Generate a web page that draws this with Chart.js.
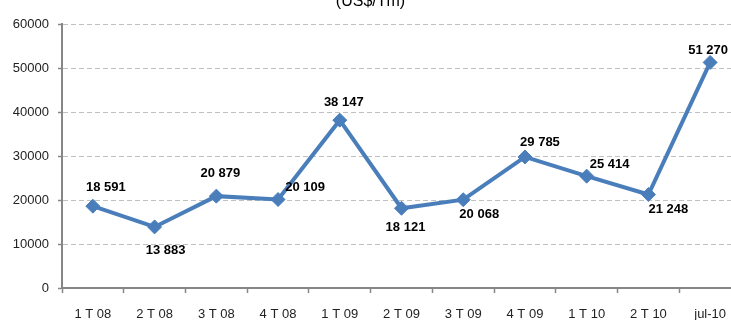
<!DOCTYPE html>
<html>
<head>
<meta charset="utf-8">
<title>US$/Tm</title>
<script src="https://cdn.jsdelivr.net/npm/chart.js@4.4.1/dist/chart.umd.min.js"></script>
<style>
  html, body { margin: 0; padding: 0; background: #fff; overflow: hidden; }
  #wrap { position: absolute; left: 0; top: -8px; width: 741px; height: 328px; }
</style>
</head>
<body>
<div id="wrap"><canvas id="priceChart"></canvas></div>
<script>
// quarterly price, US$ per tonne
var periods = ['1 T 08', '2 T 08', '3 T 08', '4 T 08', '1 T 09', '2 T 09', '3 T 09', '4 T 09', '1 T 10', '2 T 10', 'jul-10'];
var prices = [18591, 13883, 20879, 20109, 38147, 18121, 20068, 29785, 25414, 21248, 51270];
var yMin = 0;
var yMax = 60000;
var yStep = 10000;

// where each value label sits relative to its point (dx, dy)
var labelOffsets = [
  [13, -19], [11, 24], [4, -23], [27, -12], [4, -18], [4, 19],
  [16, 15], [15, -15], [23, -12], [20, 15], [-2, -12]
];

function spaced(n) {
  return String(n).replace(/\B(?=(\d{3})+(?!\d))/g, ' ');
}

var valueLabels = {
  id: 'valueLabels',
  afterDatasetsDraw: function(chart) {
    var ctx = chart.ctx;
    var meta = chart.getDatasetMeta(0);
    ctx.save();
    ctx.font = 'bold 13px "Liberation Sans", Arial, sans-serif';
    ctx.fillStyle = '#000';
    ctx.textAlign = 'center';
    ctx.textBaseline = 'middle';
    meta.data.forEach(function(pt, i) {
      var off = labelOffsets[i];
      ctx.fillText(spaced(prices[i]), pt.x + off[0], pt.y + off[1]);
    });
    ctx.restore();
  }
};

var ctx = document.getElementById('priceChart');

var lineGraph = new Chart(ctx, {
  type: 'line',
  data: {
    labels: periods,
    datasets: [{
      data: prices,
      borderColor: '#4a7ebb',
      backgroundColor: '#4a7ebb',
      borderWidth: 4,
      tension: 0,
      pointStyle: 'rectRot',
      pointRadius: 7,
      pointBorderWidth: 1,
      pointBackgroundColor: '#4a7ebb',
      pointBorderColor: '#4a7ebb'
    }]
  },
  options: {
    responsive: true,
    maintainAspectRatio: false,
    animation: false,
    layout: { padding: 0, autoPadding: false },
    plugins: {
      legend: { display: false },
      tooltip: { enabled: false },
      title: {
        display: true,
        text: '(US$/Tm)',
        color: '#000',
        font: { family: '"Liberation Sans", Arial, sans-serif', size: 16, weight: 'normal', lineHeight: 1.2 },
        padding: { top: 0, bottom: 12.8 }
      }
    },
    scales: {
      x: {
        offset: true,
        afterFit: function(scale) { scale.height = 32; },
        grid: {
          offset: true,
          drawOnChartArea: false,
          drawTicks: true,
          tickLength: 5,
          tickColor: '#868686',
          tickWidth: 1.5
        },
        border: { display: true, color: '#868686', width: 2 },
        ticks: {
          color: '#222',
          padding: 14,
          maxRotation: 0,
          autoSkip: false,
          font: { family: '"Liberation Sans", Arial, sans-serif', size: 13 }
        }
      },
      y: {
        min: yMin,
        max: yMax,
        afterFit: function(scale) { scale.width = 62; },
        grid: {
          color: '#c0c0c0',
          lineWidth: 1,
          drawTicks: true,
          tickLength: 4,
          tickColor: '#868686',
          tickBorderDash: [],
          tickWidth: 1.5
        },
        border: { display: true, color: '#868686', width: 2, dash: [5, 3] },
        ticks: {
          stepSize: yStep,
          color: '#222',
          padding: 9,
          font: { family: '"Liberation Sans", Arial, sans-serif', size: 13 },
          callback: function(v) { return String(v); }
        }
      }
    }
  },
  plugins: [valueLabels]
});
</script>
</body>
</html>
